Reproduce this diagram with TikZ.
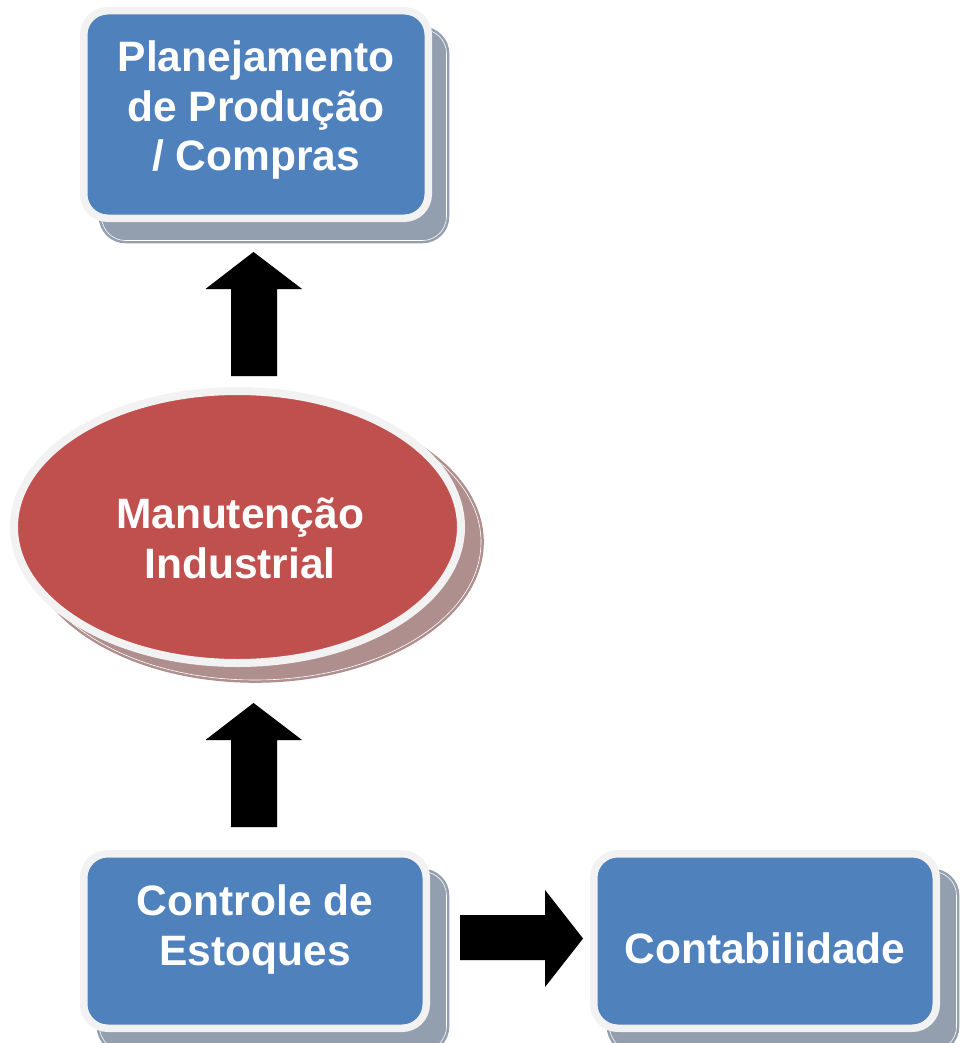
\documentclass[tikz,border=0pt]{standalone}
\usepackage{fontspec}
\setmainfont{Liberation Sans}
\usetikzlibrary{shapes.geometric}
\definecolor{boxblue}{HTML}{4F81BD}
\definecolor{boxred}{HTML}{C0504D}
\definecolor{rimwhite}{HTML}{F2F2F2}
\definecolor{shblue}{HTML}{939FAE}
\definecolor{shred}{HTML}{AF8E8E}
\definecolor{arrowsh}{HTML}{BDBDBD}
\begin{document}
\begin{tikzpicture}[x=1pt,y=-1pt,
  boxshape/.style={rectangle, rounded corners=24pt, fill=boxblue, draw=rimwhite, line width=7.5pt, inner sep=0pt},
  boxshadow/.style={rectangle, rounded corners=24pt, fill=shblue, draw=shblue, double=white, double distance=0.6pt, line width=2.5pt, inner sep=0pt},
  ellshape/.style={ellipse, fill=boxred, draw=rimwhite, line width=8pt, inner sep=0pt},
  ellshadow/.style={ellipse, fill=shred, draw=shred, double=white, double distance=0.6pt, line width=2.5pt, inner sep=0pt},
  lbl/.style={text=white, font=\bfseries\fontsize{42.5}{49.5}\selectfont, align=center, inner sep=0pt},
  blockarrow/.style={fill=black},
  arrowshadow/.style={fill=arrowsh}]
\useasboundingbox (0,0) rectangle (968,1043);

% shadows
\node[boxshadow, minimum width=345, minimum height=211] (plansh) at (274,135) {};
\node[ellshadow, minimum width=452, minimum height=276] (mansh) at (255,542) {};
\node[boxshadow, minimum width=347, minimum height=179] (estsh) at (273,961) {};
\node[boxshadow, minimum width=347, minimum height=179] (contsh) at (783,961) {};

% main shapes
\node[boxshape, minimum width=344.5, minimum height=207.5] (plan) at (256,114.5) {};
\node[ellshape, minimum width=447, minimum height=272] (man) at (237.5,527) {};
\node[boxshape, minimum width=342.5, minimum height=174.5] (est) at (255,941) {};
\node[boxshape, minimum width=342.5, minimum height=174.5] (cont) at (765,941) {};

% labels (base anchor = baseline of the last line)
\node[lbl, anchor=base] (plantxt) at (256,171) {Planejamento\\de Produção\\/ Compras};
\node[lbl, anchor=base] (mantxt) at (240,578) {Manutenção\\Industrial};
\node[lbl, anchor=base] (esttxt) at (255,965) {Controle de\\Estoques};
\node[lbl, anchor=base] (conttxt) at (765,963) {Contabilidade};

% block arrows
\coordinate (up1) at (253.5,252);
\coordinate (up2) at (253.5,703);
\coordinate (rt) at (583,938.5);
\foreach \c in {up1,up2}{
  \path[arrowshadow, shift={(4,4)}] (\c) -- ++(48.5,37) -- ++(-25,0) -- ++(0,87) -- ++(-46,0) -- ++(0,-87) -- ++(-25.5,0) -- cycle;
  \path[blockarrow] (\c) -- ++(48.5,37) -- ++(-25,0) -- ++(0,87) -- ++(-46,0) -- ++(0,-87) -- ++(-25.5,0) -- cycle;
}
\path[arrowshadow, shift={(4,4)}] (rt) -- ++(-38,48.5) -- ++(0,-27) -- ++(-85,0) -- ++(0,-45) -- ++(85,0) -- ++(0,-25) -- cycle;
\path[blockarrow] (rt) -- ++(-38,48.5) -- ++(0,-27) -- ++(-85,0) -- ++(0,-45) -- ++(85,0) -- ++(0,-25) -- cycle;
\end{tikzpicture}
\end{document}
